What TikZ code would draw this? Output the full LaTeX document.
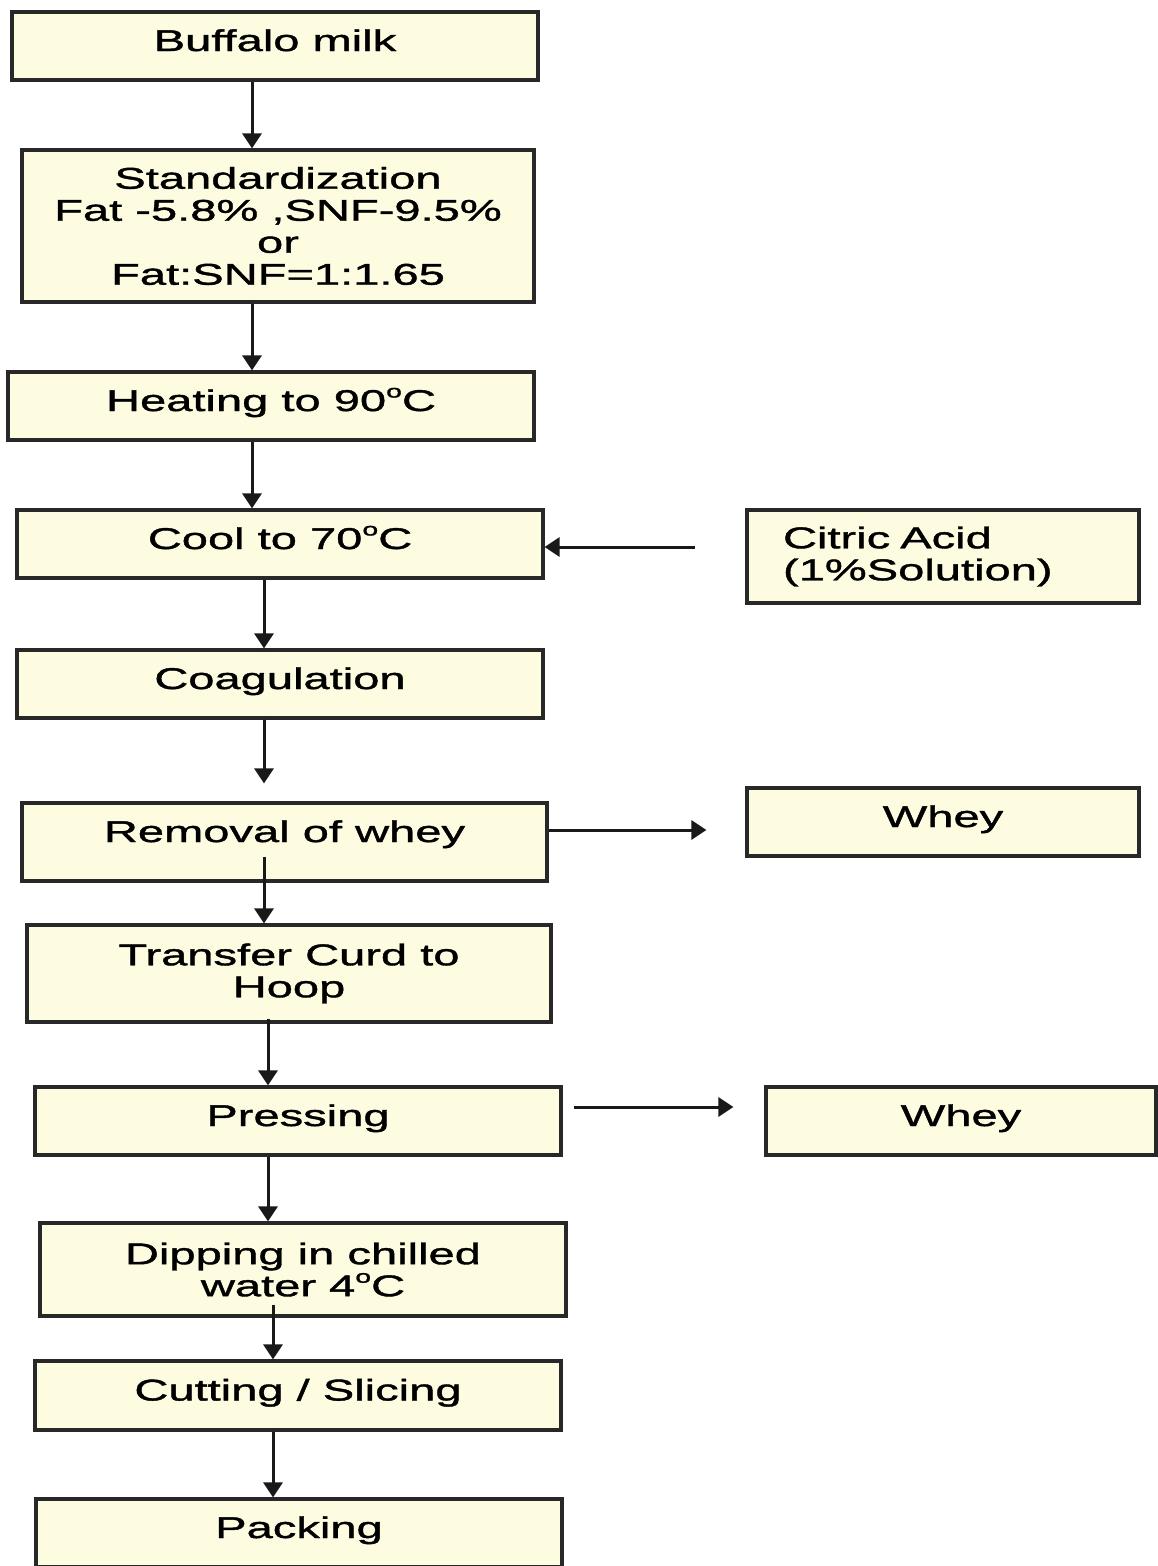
\documentclass[tikz,border=0pt]{standalone}
\usepackage{fontspec}
\setmainfont{Liberation Sans}[FakeStretch=1.57,FakeBold=1.3]
\usetikzlibrary{arrows.meta}
\definecolor{boxfill}{RGB}{253,251,224}
\definecolor{boxline}{RGB}{40,40,40}
% 上標的小 o (度)
\newcommand{\degsup}{\raisebox{0.45em}{\fontsize{18}{18}\selectfont o}}

\begin{document}
\begin{tikzpicture}[
        % 全局設定:以像素般的 pt 為單位,y 軸向下
        x=1pt, y=-1pt,
        % 方框樣式:深色框、淡黃底
        stepbox/.style={
            rectangle,
            draw=boxline,
            fill=boxfill,
            line width=3.2pt,
            minimum width=526pt,
            minimum height=68pt,
            inner sep=0pt,
            font=\fontsize{30}{32}\selectfont
        },
        % 單行文字 (稍微往上)
        oneline/.style={stepbox, text height=22pt, text depth=12pt},
        % 多行文字
        multiline/.style={stepbox, align=center},
        % 箭頭樣式
        flow/.style={
            draw=black!90,
            line width=3pt,
            -{Triangle[length=15pt,width=19pt]}
        }
    ]
    \useasboundingbox (0,0) rectangle (1158,1566);

    % --- 主流程 ---
    \node[oneline] (milk) at (275,46) {Buffalo milk};
    \node[multiline, minimum width=512pt, minimum height=152pt] (std) at (278,226)
        {Standardization\\Fat -5.8\% ,SNF-9.5\%\\or\\Fat:SNF=1:1.65};
    \node[oneline] (heat) at (271,406) {Heating to 90\degsup C};
    \node[oneline] (cool) at (280,544) {Cool to 70\degsup C};
    \node[oneline] (coag) at (280,684) {Coagulation};
    \node[oneline, minimum width=525pt, minimum height=78pt, text depth=22pt] (removal) at (284.5,842) {Removal of whey};
    \node[multiline, minimum width=524pt, minimum height=97pt] (hoop) at (289,973.5) {Transfer Curd to\\Hoop};
    \node[oneline] (press) at (298,1121) {Pressing};
    \node[multiline, minimum height=93pt] (dip) at (303,1269.5) {Dipping in chilled\\water 4\degsup C};
    \node[oneline, minimum height=69pt] (cut) at (298,1395.5) {Cutting / Slicing};
    \node[oneline] (pack) at (299,1533) {Packing};

    % --- 右側方框 ---
    \node[stepbox, minimum width=392pt, minimum height=93pt, text width=320pt, align=left] (acid) at (943,556.5)
        {Citric Acid\\(1\%Solution)};
    \node[oneline, minimum width=392pt] (whey1) at (943,822) {Whey};
    \node[oneline, minimum width=390pt] (whey2) at (961,1121) {Whey};

    % --- 垂直箭頭 ---
    \draw[flow] ([xshift=-23pt]milk.south) -- ([xshift=-23pt]milk.south |- std.north);
    \draw[flow] ([xshift=-26pt]std.south) -- ([xshift=-26pt]std.south |- heat.north);
    \draw[flow] ([xshift=-19pt]heat.south) -- ([xshift=-19pt]heat.south |- cool.north);
    \draw[flow] ([xshift=-16pt]cool.south) -- ([xshift=-16pt]cool.south |- coag.north);
    \draw[flow, shorten >=18pt] ([xshift=-16pt]coag.south) -- ([xshift=-16pt]coag.south |- removal.north);
    \draw[flow, shorten <=-26pt] ([xshift=-20.5pt]removal.south) -- ([xshift=-20.5pt]removal.south |- hoop.north);
    \draw[flow, shorten <=-5pt] ([xshift=-21pt]hoop.south) -- ([xshift=-21pt]hoop.south |- press.north);
    \draw[flow] ([xshift=-30pt]press.south) -- ([xshift=-30pt]press.south |- dip.north);
    \draw[flow, shorten <=-13pt] ([xshift=-30pt]dip.south) -- ([xshift=-30pt]dip.south |- cut.north);
    \draw[flow] ([xshift=-25pt]cut.south) -- ([xshift=-25pt]cut.south |- pack.north);

    % --- 水平箭頭 ---
    \draw[flow, shorten <=50pt] ([yshift=-3pt]acid.west |- cool.east) -- ([yshift=-3pt]cool.east);
    \draw[flow, shorten >=39pt] ([yshift=12pt]removal.east) -- ([yshift=12pt]removal.east -| whey1.west);
    \draw[flow, shorten <=11pt, shorten >=31pt] ([yshift=14pt]press.east) -- ([yshift=14pt]press.east -| whey2.west);
\end{tikzpicture}
\end{document}
